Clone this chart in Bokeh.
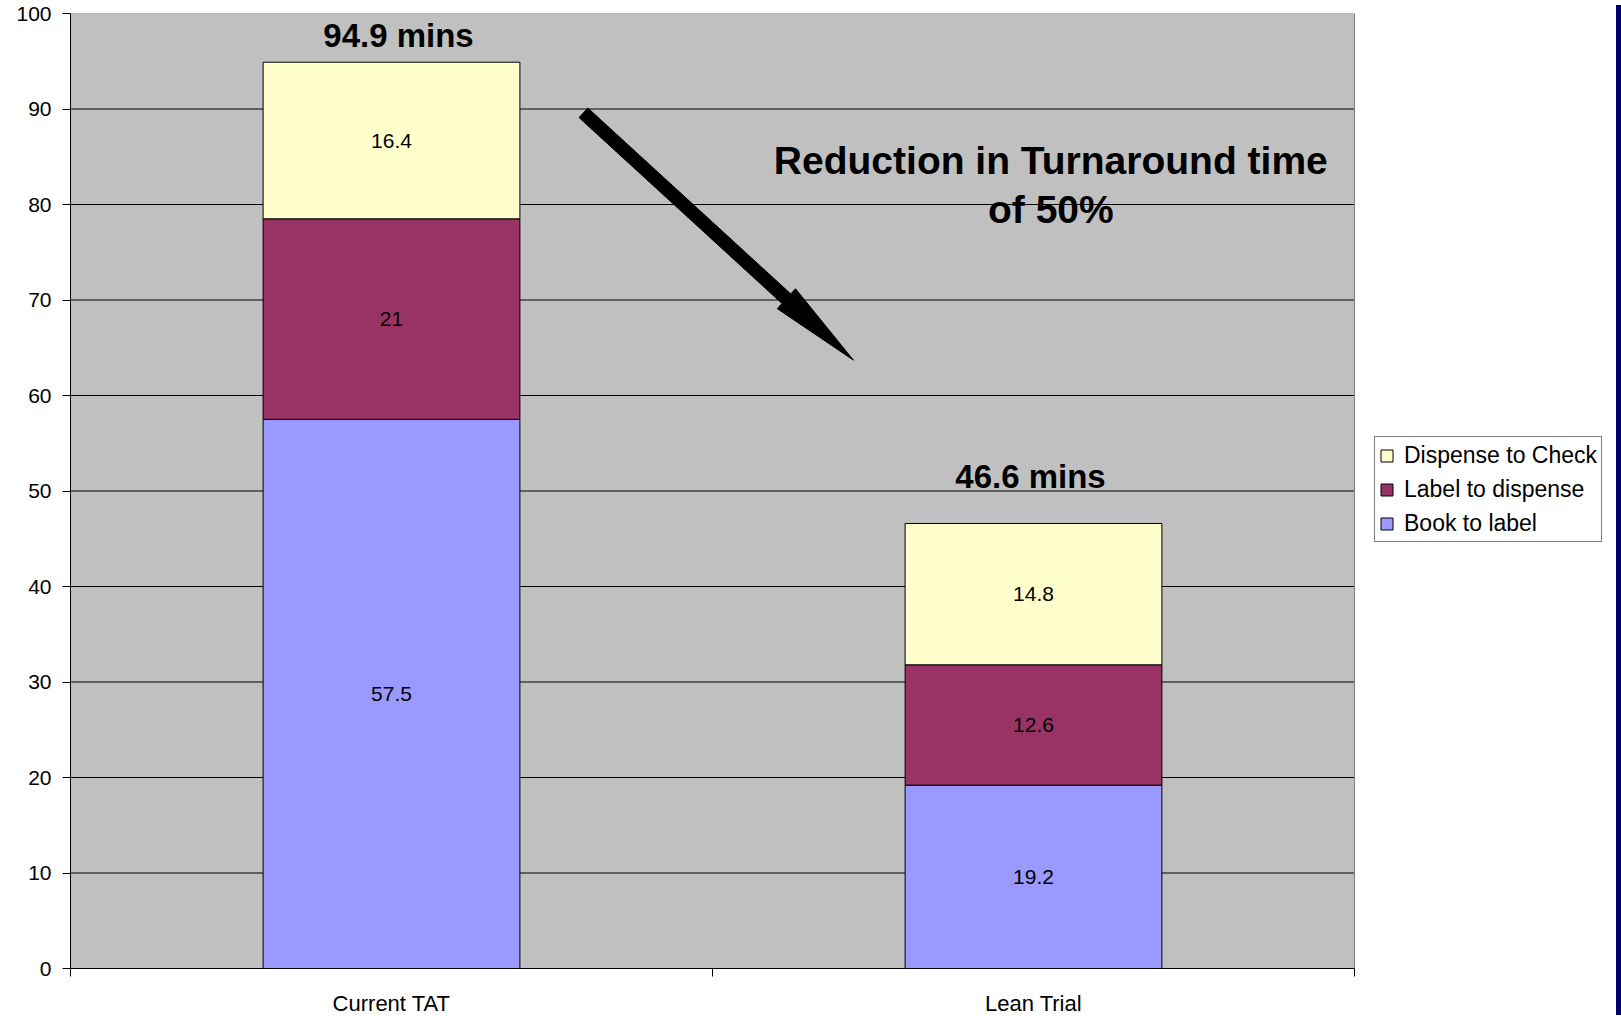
import numpy as np
from bokeh.plotting import figure
from bokeh.models import ColumnDataSource, FixedTicker, Legend, LegendItem, Div, Range1d
from bokeh.layouts import row
from bokeh.embed import file_html
from bokeh.resources import INLINE
from bokeh.core.properties import value

# ---------------- data ----------------
categories = ["Current TAT", "Lean Trial"]
series_names = ["Book to label", "Label to dispense", "Dispense to Check"]
book_to_label = [57.5, 19.2]
label_to_dispense = [21.0, 12.6]
dispense_to_check = [16.4, 14.8]
y_ticks = [0, 10, 20, 30, 40, 50, 60, 70, 80, 90, 100]
annotation_lines = ["Reduction in Turnaround time", "of 50%"]

# ---------------- style ----------------
colors = ["#9999FF", "#993366", "#FFFFCC"]
FONT = "Liberation Sans"
PX_PER_CAT = 642                      # px per category unit
FRAME_W, FRAME_H = 1541, 955
X_MAX, Y_MAX = len(categories), 100
X_END = FRAME_W / PX_PER_CAT          # frame extends past the plot area to host the legend
TOTAL_X_OFFSETS = [7, -3]             # px
TOTAL_Y_OFFSETS = [-27, -47]          # px above bar tops
ANN_X, ANN_Y = 1.527, [84.6, 79.5]    # annotation text anchor (data units)
ARROW_START = (0.799, 89.6)           # data units
ARROW_TIP = (1.2196, 63.7)
SHAFT_HALF, HEAD_HALF, HEAD_LEN = 6.5, 13.5, 91  # px

x = [i + 0.5 for i in range(len(categories))]
source = ColumnDataSource(dict(x=x, book=book_to_label, label=label_to_dispense,
                               disp=dispense_to_check))

p = figure(frame_width=FRAME_W, frame_height=FRAME_H,
           x_range=Range1d(0, X_END), y_range=Range1d(0, Y_MAX),
           output_backend="svg", toolbar_location=None,
           min_border_left=70, min_border_top=13, min_border_right=0, min_border_bottom=47,
           background_fill_color="white", border_fill_color="white",
           outline_line_color=None)

# plot area background and grid
p.quad(left=[0], right=[X_MAX], bottom=[0], top=[Y_MAX], fill_color="#C0C0C0", line_color=None)
inner = [t for t in y_ticks if 0 < t < Y_MAX]
p.segment(x0=[0] * len(inner), x1=[X_MAX] * len(inner), y0=inner, y1=inner,
          line_color="black", line_width=1)
p.segment(x0=[0, X_MAX], x1=[X_MAX, X_MAX], y0=[Y_MAX, 0], y1=[Y_MAX, Y_MAX],
          line_color="#808080", line_width=1)

rs = p.vbar_stack(["book", "label", "disp"], x="x", width=0.4, source=source,
                  fill_color=colors, line_color="black", line_width=1)

# value labels inside segments
stack = np.array([book_to_label, label_to_dispense, dispense_to_check])
bottoms = np.vstack([np.zeros(stack.shape[1]), np.cumsum(stack, axis=0)[:-1]])
mids = bottoms + stack / 2
for i in range(stack.shape[0]):
    p.text(x=x, y=list(mids[i]), text=[f"{v:g}" for v in stack[i]],
           text_align="center", text_baseline="middle",
           text_font=value(FONT), text_font_size="21px", text_color="black")

# totals
totals = stack.sum(axis=0)
tsrc = ColumnDataSource(dict(x=x, y=list(totals), t=[f"{v:.1f} mins" for v in totals],
                             xo=TOTAL_X_OFFSETS, yo=TOTAL_Y_OFFSETS))
p.text(x="x", y="y", text="t", x_offset="xo", y_offset="yo", source=tsrc,
       text_align="center", text_baseline="middle", text_font=value(FONT),
       text_font_size="33px", text_font_style="bold", text_color="black")

# annotation
p.text(x=[ANN_X] * len(annotation_lines), y=ANN_Y, text=annotation_lines,
       text_align="center", text_baseline="middle", text_font=value(FONT),
       text_font_size="39px", text_font_style="bold", text_color="black")

# arrow as polygon (computed in pixel space)
sx, sy = PX_PER_CAT, FRAME_H / Y_MAX
s = np.array([ARROW_START[0] * sx, ARROW_START[1] * sy])
t = np.array([ARROW_TIP[0] * sx, ARROW_TIP[1] * sy])
u = (t - s) / np.linalg.norm(t - s)
n = np.array([-u[1], u[0]])
b = t - u * HEAD_LEN
pts = [s + n * SHAFT_HALF, b + n * SHAFT_HALF, b + n * HEAD_HALF, t,
       b - n * HEAD_HALF, b - n * SHAFT_HALF, s - n * SHAFT_HALF]
p.patch(x=[q[0] / sx for q in pts], y=[q[1] / sy for q in pts],
        fill_color="black", line_color="black", line_width=1)

# axes
p.yaxis.ticker = FixedTicker(ticks=y_ticks)
p.xgrid.visible = False
p.ygrid.visible = False

for ax in (p.xaxis, p.yaxis):
    ax.axis_line_color = "black"
    ax.axis_line_width = 1
    ax.major_label_text_font = FONT
    ax.major_label_text_color = "black"
    ax.major_tick_line_color = "black"
    ax.minor_tick_line_color = "black"
    ax.major_tick_in = 0
    ax.minor_tick_in = 0

p.yaxis.major_tick_out = 8
p.yaxis.minor_tick_out = 0
p.yaxis.major_label_standoff = 11
p.yaxis.major_label_text_font_size = "21px"

p.xaxis.bounds = (0, X_MAX)
p.xaxis.ticker = FixedTicker(ticks=x, minor_ticks=list(range(len(categories) + 1)))
p.xaxis.major_tick_out = 0
p.xaxis.minor_tick_out = 8
p.xaxis.major_label_standoff = 14
p.xaxis.major_label_text_font_size = "22px"
p.xaxis.major_label_overrides = {xi: c for xi, c in zip(x, categories)}

# legend (reverse order as in reference)
legend = Legend(items=[LegendItem(label=series_names[i], renderers=[rs[i]])
                       for i in reversed(range(len(series_names)))],
                location=(1304, 426), orientation="vertical",
                border_line_color="black", border_line_width=1,
                background_fill_color="white", background_fill_alpha=1,
                label_text_font=FONT, label_text_font_size="23px", label_text_color="black",
                glyph_width=15, glyph_height=15, label_height=28, label_standoff=10,
                padding=4, spacing=6, margin=0)
p.add_layout(legend, "center")

strip = Div(width=6, height=1010, styles={"background-color": "#000070"})
layout = row(p, strip)

open("out.html", "w").write(file_html(layout, INLINE))
